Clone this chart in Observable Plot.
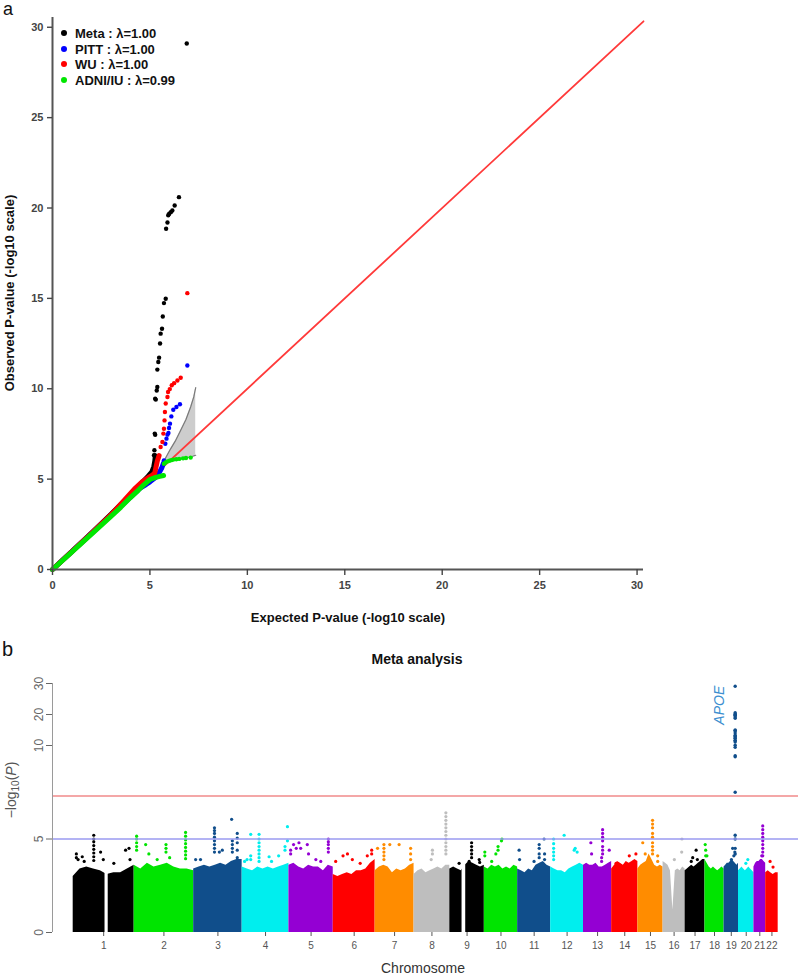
<!DOCTYPE html>
<html><head><meta charset="utf-8">
<script src="https://cdn.jsdelivr.net/npm/d3@7"></script>
<script src="https://cdn.jsdelivr.net/npm/@observablehq/plot@0.6"></script>
<style>
body{margin:0;background:#fff;font-family:"Liberation Sans",Arial,sans-serif;}
#wrap{position:relative;width:800px;height:978px;overflow:hidden;background:#fff;}
.abs{position:absolute;white-space:nowrap;line-height:1;}
.rot{transform:translate(-50%,-50%) rotate(-90deg);}
.ctr{transform:translate(-50%,-50%);}
.leg{position:absolute;display:flex;align-items:center;height:16px;font-weight:bold;font-size:13px;color:#111;white-space:nowrap;}
.leg span.d{display:inline-block;width:6px;height:6px;border-radius:50%;margin-right:8px;}
</style></head><body>
<div id="wrap">
  <div id="qq" class="abs" style="left:0;top:0"></div>
  <div id="man" class="abs" style="left:0;top:670px"></div>
  <div class="abs" style="left:3px;top:0px;font-size:18px;color:#111">a</div>
  <div class="abs" style="left:2px;top:639px;font-size:20px;color:#111">b</div>
  <div class="abs rot" style="left:9px;top:293px;font-size:13px;font-weight:bold;color:#111">Observed P-value (-log10 scale)</div>
  <div class="abs ctr" style="left:348px;top:617px;font-size:13px;font-weight:bold;color:#111">Expected P-value (-log10 scale)</div>
  <div class="abs ctr" style="left:417px;top:659px;font-size:14px;font-weight:bold;color:#111">Meta analysis</div>
  <div class="abs rot" style="left:12px;top:790px;font-size:14px;color:#555">−log<sub style="font-size:10px;vertical-align:-3px">10</sub>(<i>P</i>)</div>
  <div class="abs ctr" style="left:423px;top:968px;font-size:14px;color:#333">Chromosome</div>
  <div id="legend"></div>
</div>
<script>
// ================= Panel a : QQ plot =================
const qqSeries = ["Meta", "PITT", "WU", "ADNI/IU"];
const qqLambda = ["1.00", "1.00", "1.00", "0.99"];
const qqColors = ["#000000", "#0000ff", "#ff0000", "#00e600"];
const qqTicks = [0, 5, 10, 15, 20, 25, 30];
const qqAxisMax = [30.33, 30.54];

// dense part of each curve [expected, observed]
const metaBand = [[0,0],[1,1],[2,2.02],[3,3.05],[3.5,3.6],[4,4.12],[4.5,4.7],[4.9,5.15],[5.1,5.4],[5.2,5.7],[5.25,6.0],[5.28,6.3]];
const pittBand = [[0,0],[2,2],[3,3],[4,4.0],[4.5,4.5],[4.8,4.7],[5.0,4.85],[5.3,5.1],[5.5,5.4],[5.6,5.6],[5.7,5.9]];
const wuBand   = [[0,0],[2,2],[3,3.02],[3.7,3.85],[4.2,4.45],[4.6,4.85],[4.9,5.08],[5.1,5.2],[5.25,5.35],[5.3,5.6],[5.38,6.0],[5.47,6.3]];
const adniBand = [[0,0],[1,0.98],[2,1.96],[3,2.94],[3.5,3.44],[4,3.98],[4.4,4.38],[4.7,4.7],[5.0,4.98],[5.3,5.1],[5.5,5.15],[5.7,5.2]];

// sparse tail points [expected, observed]
const metaTail = [[5.21,6.32],[5.23,6.6],[5.25,7.52],[5.27,7.45],[5.27,9.45],[5.3,9.4],[5.35,9.9],[5.38,10.1],[5.38,11.06],[5.43,11.48],[5.47,11.72],[5.52,12.5],[5.55,13.05],[5.62,13.32],[5.66,14.0],[5.72,14.74],[5.81,14.98],[5.83,18.85],[5.9,19.2],[5.94,19.6],[5.99,19.68],[6.07,19.77],[6.15,19.86],[6.27,20.14],[6.49,20.6],[6.89,29.1]];
const pittTail = [[5.72,6.04],[5.79,6.96],[5.85,7.24],[5.9,7.46],[5.95,7.55],[5.98,7.83],[6.03,8.07],[6.1,8.47],[6.2,8.84],[6.36,8.99],[6.54,9.14],[6.92,11.29]];
const wuTail   = [[5.55,6.78],[5.64,7.05],[5.69,7.52],[5.72,7.79],[5.75,8.25],[5.77,8.71],[5.81,9.18],[5.9,9.54],[5.93,9.82],[6.02,9.98],[6.12,10.19],[6.24,10.31],[6.41,10.46],[6.58,10.61],[6.92,15.29]];
const adniTail = [[5.72,5.85],[5.8,5.92],[5.9,5.98],[6.0,6.02],[6.1,6.05],[6.2,6.08],[6.35,6.1],[6.5,6.12],[6.7,6.15],[6.85,6.17],[7.09,6.19]];

// 95% confidence band of the expected distribution
const ciExpected = [5.72, 6.07, 6.3, 6.58, 6.85, 7.09, 7.25, 7.35];
const ciLower    = [5.92, 6.0, 6.06, 6.12, 6.18, 6.24, 6.29, 6.32];
const ciUpper    = [6.0, 6.69, 7.1, 7.7, 8.3, 8.99, 9.55, 10.06];

const qqBands = [metaBand, pittBand, wuBand, adniBand];
const qqTails = [metaTail, pittTail, wuTail, adniTail];
const ciRows = ciExpected.map((e, i) => ({e, lo: ciLower[i], hi: ciUpper[i]}));
const diagonal = [0, qqAxisMax[0]];

const qq = Plot.plot({
  width: 800, height: 600,
  marginLeft: 52, marginRight: 157, marginTop: 17, marginBottom: 31,
  x: {domain: [0, qqAxisMax[0]]},
  y: {domain: [0, qqAxisMax[1]]},
  style: {fontFamily: "'Liberation Sans', Arial, sans-serif", fontWeight: "bold", fontSize: "11px", color: "#333", background: "transparent", overflow: "visible"},
  marks: [
    Plot.areaY(ciRows, {x: "e", y1: "lo", y2: "hi", fill: "#cdcdcd"}),
    Plot.line(ciRows, {x: "e", y: "lo", stroke: "#7a7a7a", strokeWidth: 1.2}),
    Plot.line(ciRows, {x: "e", y: "hi", stroke: "#7a7a7a", strokeWidth: 1.2}),
    Plot.line(diagonal, {x: d => d, y: d => d, stroke: "#ff3a3a", strokeWidth: 1.8}),
    ...qqSeries.flatMap((s, i) => [
      Plot.line(qqBands[i], {x: d => d[0], y: d => d[1], stroke: qqColors[i], strokeWidth: 5, strokeLinecap: "round", strokeLinejoin: "round"}),
      Plot.dot(qqTails[i], {x: d => d[0], y: d => d[1], r: 2.2, fill: qqColors[i], stroke: "none"})
    ]),
    Plot.ruleX([0], {stroke: "#555", strokeWidth: 2}),
    Plot.ruleY([0], {stroke: "#555", strokeWidth: 2}),
    Plot.axisX({ticks: qqTicks, tickSize: 6, tickPadding: 6, label: null, strokeWidth: 1.4, color: "#444"}),
    Plot.axisY({ticks: qqTicks, tickSize: 5, tickPadding: 4, label: null, strokeWidth: 1.4, color: "#444"})
  ]
});
document.getElementById("qq").appendChild(qq);

// legend
const legendY = [33.3, 49.3, 64.3, 80];
const legend = document.getElementById("legend");
qqSeries.forEach((s, i) => {
  const row = document.createElement("div");
  row.className = "leg";
  row.style.left = "61px";
  row.style.top = (legendY[i] - 8) + "px";
  row.innerHTML = `<span class="d" style="background:${qqColors[i]}"></span>${s} : λ=${qqLambda[i]}`;
  legend.appendChild(row);
});

// ================= Panel b : Manhattan plot =================
const chrNames = ["1","2","3","4","5","6","7","8","9","10","11","12","13","14","15","16","17","18","19","20","21","22"];
const chrLenMb = [249,243,198,191,181,171,159,146,141,136,135,134,115,107,103,90,81,78,59,63,48,51];
const chrPalette = ["#000000","#00e400","#104e8b","#00eeee","#9400d3","#ff0000","#ff8c00","#bebebe"];
const manTicks = [0, 5, 10, 20, 30];
const yBreaks = [0, 10, 30];
const genomeWideLine = 7.3;
const suggestiveLine = 5;
const padMb = [84.5, 83];

// upper edge of the dense point cloud, evenly spaced along each chromosome
const bodyTop = [
  [3.0,3.4,3.5,3.4,3.3,3.1,3.2,3.2,3.4,3.6],
  [3.6,3.4,3.7,3.5,3.6,3.7,3.5,3.4,3.4,3.3],
  [3.4,3.5,3.6,3.5,3.6,3.7,3.6,3.8,3.9,3.9],
  [3.5,3.4,3.3,3.5,3.4,3.5,3.4,3.5,3.6,3.7],
  [3.6,3.7,3.5,3.4,3.6,3.5,3.5,3.3,3.6,3.5],
  [3.1,3.0,3.1,3.2,3.1,3.3,3.3,3.4,3.7,3.9],
  [3.3,3.5,3.6,3.5,3.2,3.4,3.3,3.4,3.6,3.7],
  [3.1,3.3,3.4,3.2,3.3,3.4,3.5,3.4,3.6,3.6],
  [3.4,3.5,3.4,3.3,3.6,3.8,3.7,3.6,3.5,3.6],
  [3.5,3.4,3.6,3.5,3.6,3.4,3.5,3.4,3.6,3.5],
  [3.4,3.3,3.2,3.4,3.3,3.6,3.7,3.8,3.6,3.5],
  [3.5,3.4,3.3,3.3,3.2,3.4,3.5,3.6,3.7,3.6],
  [3.6,3.7,3.6,3.6,3.7,3.5,3.5,3.6,3.7,3.8],
  [3.4,3.6,3.8,3.7,3.6,3.8,3.7,3.8,3.9,3.8],
  [3.4,3.6,3.7,3.8,4.2,3.9,3.6,3.5,3.6,3.5],
  [3.8,3.7,3.6,3.3,1.2,3.3,3.4,3.3,3.5,3.4],
  [3.3,3.4,3.5,3.6,3.5,3.6,3.7,3.8,3.9,3.9],
  [3.9,3.7,3.5,3.4,3.5,3.4,3.3,3.4,3.5,3.4],
  [3.5,3.6,3.7,3.7,3.8,3.9,3.8,3.7,3.6,3.7],
  [3.3,3.4,3.5,3.4,3.3,3.4,3.5,3.4,3.3,3.2],
  [3.5,3.7,3.8,3.8,3.9,3.9,3.8,3.7],
  [3.2,3.3,3.2,3.1,3.2,3.2]
];
// regions without SNPs [chromosome, startMb, endMb]
const gaps = [[1, 130, 143], [9, 50, 65]];
// individual points above the cloud [chromosome, Mb, -log10 P]
const hits = [
  [1,84,5.2],[1,84,5.0],[1,84,4.85],[1,84,4.65],[1,84,4.45],[1,84,4.25],[1,84,4.05],[1,84,3.85],[1,13,4.2],[1,13,4.0],[1,20,3.9],[1,37,4.05],[1,45,3.8],[1,112,4.3],[1,123,3.9],[1,166,3.7],[1,214,4.4],[1,228,4.5],[1,232,3.9],
  [2,10,5.15],[2,10,5.0],[2,10,4.8],[2,10,4.6],[2,10,4.4],[2,47,4.7],[2,60,4.2],[2,94,3.9],[2,130,4.7],[2,130,4.5],[2,130,4.3],[2,145,4.0],[2,210,5.35],[2,210,5.15],[2,210,4.95],[2,210,4.75],[2,210,4.55],[2,210,4.35],[2,210,4.15],[2,210,3.95],
  [3,8,3.9],[3,28,3.9],[3,85,5.6],[3,85,5.45],[3,85,5.3],[3,85,5.1],[3,85,4.9],[3,85,4.7],[3,85,4.5],[3,85,4.3],[3,105,4.3],[3,117,4.4],[3,155,6.05],[3,158,4.9],[3,158,4.7],[3,158,4.5],[3,158,4.3],[3,178,5.3],[3,178,5.05],[3,178,4.8],[3,178,4.4],[3,178,4.0],
  [4,10,3.8],[4,20,3.9],[4,35,5.25],[4,35,4.1],[4,35,3.9],[4,69,5.25],[4,69,5.0],[4,69,4.8],[4,69,4.6],[4,69,4.4],[4,69,4.2],[4,69,4.0],[4,69,3.8],[4,110,4.05],[4,120,3.8],[4,149,4.1],[4,175,4.6],[4,175,4.4],[4,185,5.66],[4,185,4.9],
  [5,7,4.4],[5,7,4.2],[5,19,4.7],[5,30,4.5],[5,41,4.8],[5,48,4.5],[5,75,4.7],[5,80,4.2],[5,110,3.9],[5,130,3.8],[5,161,5.0],[5,161,4.85],[5,161,4.7],[5,161,4.5],[5,161,4.3],
  [6,10,3.8],[6,40,4.1],[6,58,4.2],[6,78,3.9],[6,110,3.7],[6,139,4.1],[6,157,4.4],[6,157,4.2],
  [7,10,4.5],[7,36,4.7],[7,36,4.5],[7,36,4.3],[7,36,4.1],[7,36,3.9],[7,60,4.7],[7,98,4.7],[7,145,4.5],[7,145,4.2],[7,145,3.9],
  [8,75,4.4],[8,75,4.2],[8,70,3.9],[8,130,6.4],[8,130,6.2],[8,130,6.0],[8,130,5.8],[8,130,5.6],[8,130,5.4],[8,130,5.2],[8,130,5.0],[8,130,4.8],[8,130,4.6],[8,130,4.4],[8,130,4.2],
  [9,38,3.7],[9,79,3.8],[9,89,4.8],[9,89,4.6],[9,89,4.4],[9,89,4.2],[9,89,4.0],[9,120,3.9],[9,122,3.75],
  [10,2,4.3],[10,2,4.1],[10,30,3.8],[10,47,4.2],[10,56,4.6],[10,56,4.4],[10,70,4.9],[10,72,5.0],
  [11,6,4.4],[11,8,3.9],[11,67,3.8],[11,88,4.7],[11,88,4.5],[11,88,4.2],[11,88,4.0],[11,108,5.0],[11,110,4.2],[11,110,3.9],
  [12,12,5.0],[12,12,4.75],[12,12,4.5],[12,12,4.3],[12,12,4.1],[12,12,3.9],[12,55,5.2],[12,96,4.4],[12,100,4.5],[12,108,4.3],
  [13,30,4.8],[13,33,4.2],[13,78,5.5],[13,78,5.3],[13,78,5.1],[13,78,4.9],[13,78,4.6],[13,78,4.4],[13,78,4.2],[13,74,4.0],[13,74,3.8],[13,105,4.4],
  [14,18,3.7],[14,72,4.1],[14,99,4.2],
  [15,20,4.8],[15,30,4.2],[15,60,6.0],[15,60,5.8],[15,60,5.6],[15,60,5.3],[15,60,5.1],[15,60,4.8],[15,60,4.6],[15,60,4.4],[15,60,4.2],[15,81,4.1],[15,81,3.8],
  [16,77,5.0],[16,76,4.3],[16,46,3.9],
  [17,45,4.4],[17,31,4.0],[17,50,3.9],[17,25,3.8],
  [18,1,4.7],[18,3,4.4],[18,3,4.1],[18,8,4.1],
  [19,35,4.5],[19,40,4.1],[19,30,3.9],[19,44,4.3],
  [20,38,3.9],[20,30,3.7],
  [21,36,5.7],[21,36,5.5],[21,36,5.3],[21,36,5.1],[21,36,4.9],[21,36,4.7],[21,36,4.5],[21,36,4.3],[21,36,4.1],[21,32,4.1],
  [22,18,3.8],[22,30,3.5]
];
// APOE locus on chromosome 19
const apoeChr = 19;
const apoePosMb = 45.4;
const apoeValues = [29.1,20.6,20.2,19.9,19.8,19.7,19.2,18.8,15.0,14.8,14.7,14.0,13.3,13.0,12.5,12.3,11.7,11.5,11.1,10.1,9.9,9.45,9.4,7.5,5.2,5.0,4.5,4.2];
const annotations = [{chr: 19, pos: 45.4, value: 23, label: "APOE"}];

// derived table
const chrStart = [];
chrLenMb.reduce((acc, len, i) => { chrStart[i] = acc; return acc + len; }, 0);
const genomeLen = d3.sum(chrLenMb);
const chrMid = chrLenMb.map((len, i) => chrStart[i] + len / 2);
const colorOf = c => chrPalette[(c - 1) % chrPalette.length];
const gx = (c, mb) => chrStart[c - 1] + mb;

const bodyRows = bodyTop.flatMap((vals, i) => vals.map((v, j) => ({
  chr: i + 1, x: chrStart[i] + chrLenMb[i] * j / (vals.length - 1), v
})));
const gapRows = gaps.map(([c, a, b]) => ({x1: gx(c, a), x2: gx(c, b), top: d3.max(bodyTop[c - 1]) + 0.1}));
const hitRows = hits.map(([c, mb, v]) => ({chr: c, x: gx(c, mb), v}));
const apoeRows = apoeValues.map(v => ({chr: apoeChr, x: gx(apoeChr, apoePosMb), v}));

const man = Plot.plot({
  width: 800, height: 308,
  marginLeft: 52, marginRight: 2, marginTop: 13, marginBottom: 46,
  x: {type: "linear", domain: [-padMb[0], genomeLen + padMb[1]]},
  y: {type: "linear", domain: yBreaks, range: [262, 75, 13]},
  style: {fontFamily: "'Liberation Sans', Arial, sans-serif", color: "#555", background: "transparent", overflow: "visible"},
  marks: [
    Plot.areaY(bodyRows, {x: "x", y1: () => 0, y2: "v", z: "chr", fill: d => colorOf(d.chr), curve: "linear"}),
    Plot.rect(gapRows, {x1: "x1", x2: "x2", y1: () => 0, y2: "top", fill: "#ffffff"}),
    Plot.dot(hitRows, {x: "x", y: "v", r: 1.6, fill: d => colorOf(d.chr), stroke: "none"}),
    Plot.dot(apoeRows, {x: "x", y: "v", r: 1.7, fill: d => colorOf(d.chr), stroke: "none"}),
    Plot.ruleY([genomeWideLine], {stroke: "#f08a8a", strokeWidth: 1.4}),
    Plot.ruleY([suggestiveLine], {stroke: "#9a9af0", strokeWidth: 1.4}),
    Plot.text(annotations, {x: d => gx(d.chr, d.pos), y: "value", text: "label", rotate: -90, dx: -16, fill: "#3d8fd0", fontSize: 14, fontStyle: "italic"}),
    Plot.ruleX([-padMb[0]], {y1: () => 0, y2: () => 30, stroke: "#9a9a9a", strokeWidth: 1}),
    Plot.axisY({ticks: manTicks, tickRotate: -90, tickSize: 6, tickPadding: 4, fontSize: 12, label: null, color: "#666"}),
    Plot.axisX({ticks: chrMid, tickFormat: d => chrNames[chrMid.indexOf(d)], tickSize: 4, tickPadding: 5, fontSize: 10, label: null, color: "#555"})
  ]
});
document.getElementById("man").appendChild(man);
</script>
</body></html>
